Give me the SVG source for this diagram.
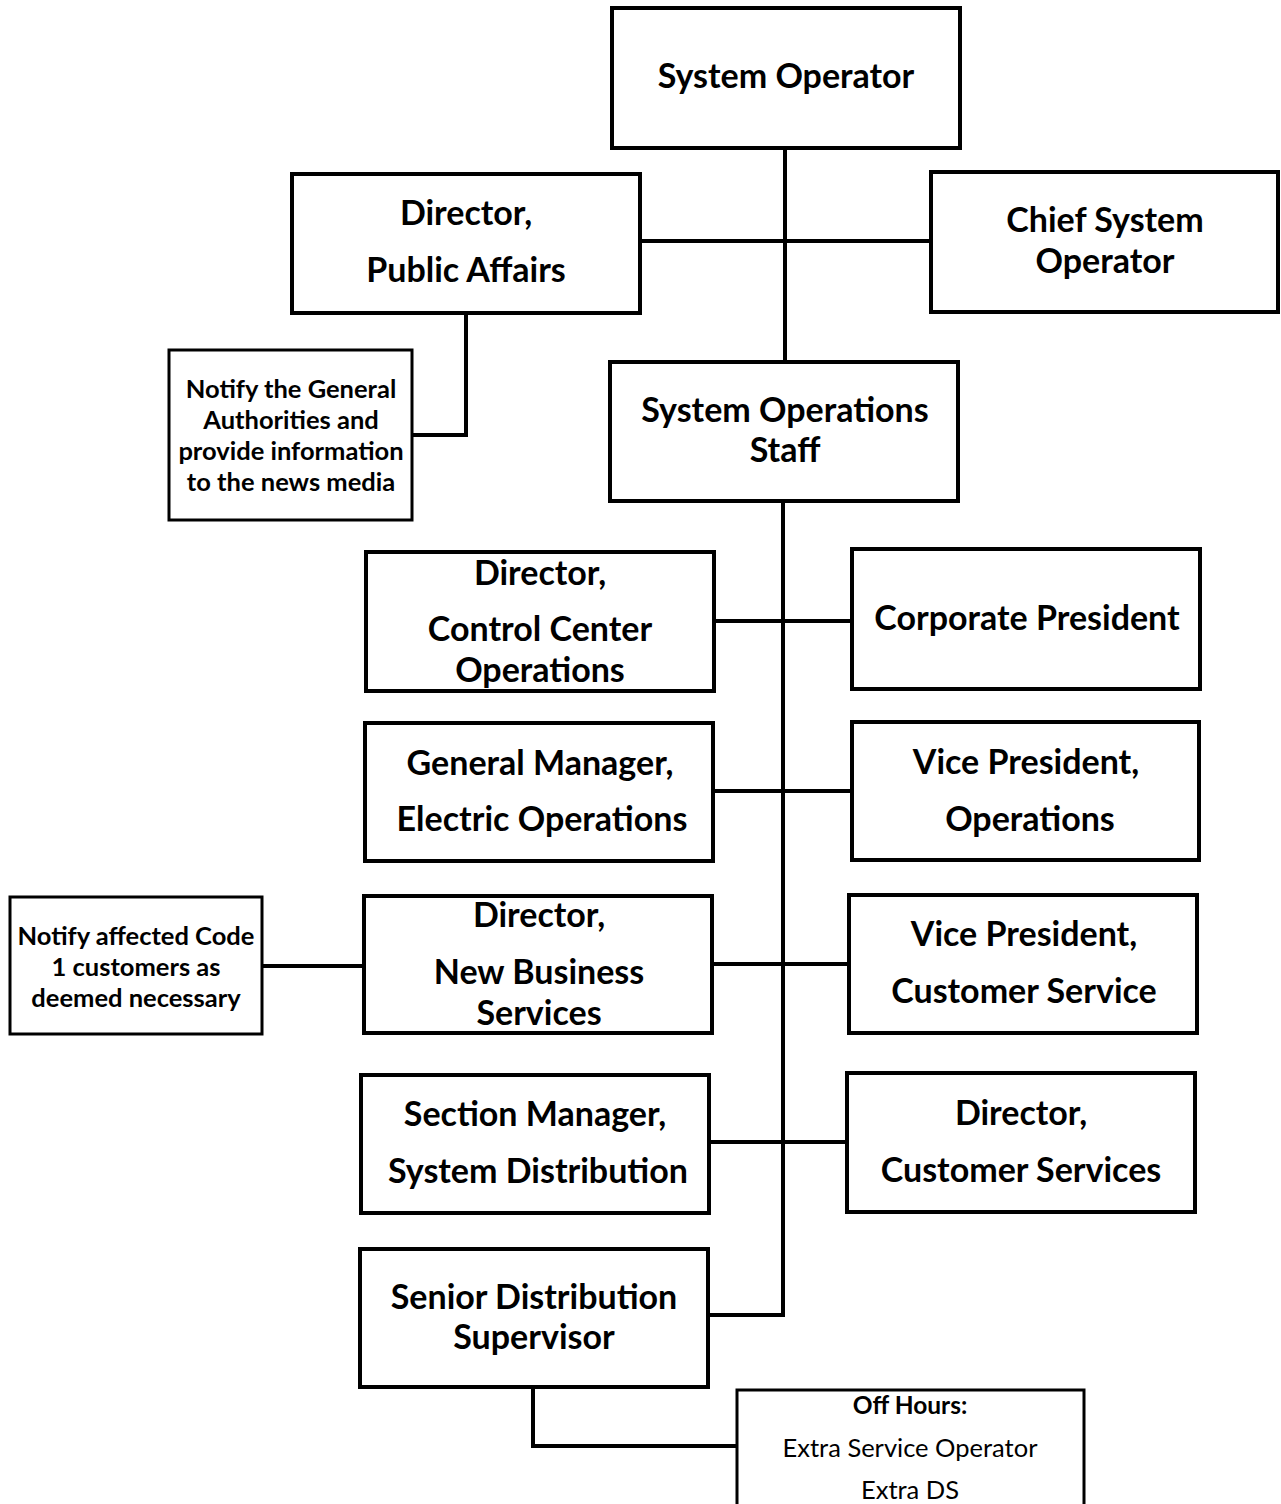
<svg xmlns="http://www.w3.org/2000/svg" width="1281" height="1504" viewBox="0 0 1281 1504">
  <style>
    .box { fill: #fff; stroke: #000; stroke-width: 4; }
    .note { fill: #fff; stroke: #000; stroke-width: 3; }
    .wire { fill: none; stroke: #000; stroke-width: 4; }
    .t { font-family: Lato, "Liberation Sans", sans-serif; font-weight: bold; font-size: 34px; fill: #000; text-anchor: middle; }
    .s { font-family: Lato, "Liberation Sans", sans-serif; font-weight: bold; font-size: 25.5px; fill: #000; text-anchor: middle; }
    .h { font-family: Lato, "Liberation Sans", sans-serif; font-weight: bold; font-size: 24.5px; fill: #000; text-anchor: middle; }
    .r { font-family: Lato, "Liberation Sans", sans-serif; font-weight: normal; font-size: 25.5px; fill: #000; text-anchor: middle; }
  </style>
  <rect width="1281" height="1504" fill="#fff"/>

  <!-- connectors -->
  <g id="connectors">
    <path class="wire" d="M785 148 V362"/>
    <path class="wire" d="M640 241 H931"/>
    <path class="wire" d="M466 313 V435 H412"/>
    <path class="wire" d="M783 501 V1315 H708"/>
    <path class="wire" d="M714 621 H852"/>
    <path class="wire" d="M713 791 H852"/>
    <path class="wire" d="M712 964 H849"/>
    <path class="wire" d="M262 966 H364"/>
    <path class="wire" d="M709 1142 H847"/>
    <path class="wire" d="M533 1387 V1446 H737"/>
  </g>

  <g id="system-operator">
    <rect class="box" x="612" y="8" width="348" height="140"/>
    <text class="t" x="786" y="88">System Operator</text>
  </g>

  <g id="director-public-affairs">
    <rect class="box" x="292" y="174" width="348" height="139"/>
    <text class="t" x="466" y="225">Director,</text>
    <text class="t" x="466" y="282">Public Affairs</text>
  </g>

  <g id="chief-system-operator">
    <rect class="box" x="931" y="172" width="347" height="140"/>
    <text class="t" x="1105" y="232">Chief System</text>
    <text class="t" x="1105" y="273">Operator</text>
  </g>

  <g id="notify-authorities">
    <rect class="note" x="169" y="350" width="243" height="170"/>
    <text class="s" x="291" y="398">Notify the General</text>
    <text class="s" x="291" y="429">Authorities and</text>
    <text class="s" x="291" y="460">provide information</text>
    <text class="s" x="291" y="491">to the news media</text>
  </g>

  <g id="system-operations-staff">
    <rect class="box" x="610" y="362" width="348" height="139"/>
    <text class="t" x="785" y="422">System Operations</text>
    <text class="t" x="785" y="462">Staff</text>
  </g>

  <g id="director-control-center">
    <rect class="box" x="366" y="552" width="348" height="139"/>
    <text class="t" x="540" y="585">Director,</text>
    <text class="t" x="540" y="641">Control Center</text>
    <text class="t" x="540" y="682">Operations</text>
  </g>

  <g id="corporate-president">
    <rect class="box" x="852" y="549" width="348" height="140"/>
    <text class="t" x="1027" y="630">Corporate President</text>
  </g>

  <g id="general-manager">
    <rect class="box" x="365" y="723" width="348" height="138"/>
    <text class="t" x="540" y="775">General Manager,</text>
    <text class="t" x="542" y="831">Electric Operations</text>
  </g>

  <g id="vp-operations">
    <rect class="box" x="852" y="722" width="347" height="138"/>
    <text class="t" x="1026" y="774">Vice President,</text>
    <text class="t" x="1030" y="831">Operations</text>
  </g>

  <g id="notify-code1">
    <rect class="note" x="10" y="897" width="252" height="137"/>
    <text class="s" x="136" y="945">Notify affected Code</text>
    <text class="s" x="136" y="976">1 customers as</text>
    <text class="s" x="136" y="1007">deemed necessary</text>
  </g>

  <g id="director-new-business">
    <rect class="box" x="364" y="896" width="348" height="137"/>
    <text class="t" x="539" y="927">Director,</text>
    <text class="t" x="539" y="984">New Business</text>
    <text class="t" x="539" y="1025">Services</text>
  </g>

  <g id="vp-customer-service">
    <rect class="box" x="849" y="895" width="348" height="138"/>
    <text class="t" x="1024" y="946">Vice President,</text>
    <text class="t" x="1024" y="1003">Customer Service</text>
  </g>

  <g id="section-manager">
    <rect class="box" x="361" y="1075" width="348" height="138"/>
    <text class="t" x="535" y="1126">Section Manager,</text>
    <text class="t" x="538" y="1183">System Distribution</text>
  </g>

  <g id="director-customer-services">
    <rect class="box" x="847" y="1073" width="348" height="139"/>
    <text class="t" x="1021" y="1125">Director,</text>
    <text class="t" x="1021" y="1182">Customer Services</text>
  </g>

  <g id="senior-distribution-supervisor">
    <rect class="box" x="360" y="1249" width="348" height="138"/>
    <text class="t" x="534" y="1309">Senior Distribution</text>
    <text class="t" x="534" y="1349">Supervisor</text>
  </g>

  <g id="off-hours">
    <rect class="note" x="737" y="1390" width="347" height="120"/>
    <text class="h" x="910" y="1414">Off Hours:</text>
    <text class="r" x="910" y="1457">Extra Service Operator</text>
    <text class="r" x="910" y="1499">Extra DS</text>
  </g>
</svg>
